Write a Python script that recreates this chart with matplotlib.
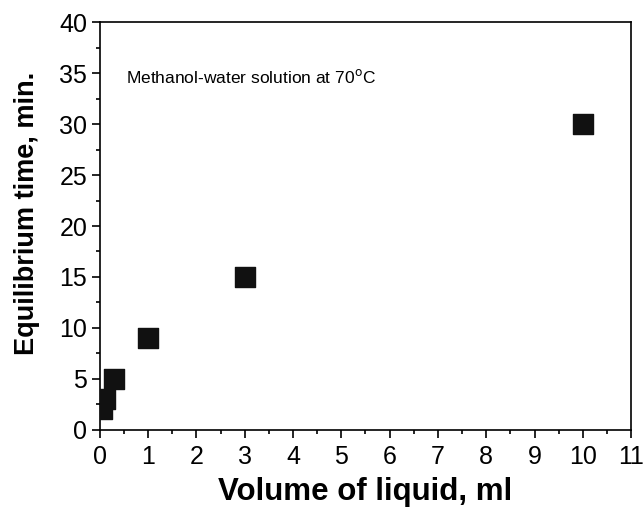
import matplotlib
matplotlib.use("Agg")
import matplotlib.pyplot as plt
from matplotlib.ticker import MultipleLocator

plt.rcParams['font.family'] = ['Liberation Sans', 'DejaVu Sans']

# volume of liquid (ml) and equilibrium time (min)
volume = [0.05, 0.1, 0.3, 1, 3, 10]
eq_time = [2, 3, 5, 9, 15, 30]

fig = plt.figure(figsize=(6.44, 5.16), dpi=100)
ax = fig.add_axes([0.155, 0.167, 0.825, 0.79])

ax.scatter(volume, eq_time, marker='s', s=200, color='#111111', zorder=3)

ax.set_xlim(0, 11)
ax.set_ylim(0, 40)
ax.xaxis.set_major_locator(MultipleLocator(1))
ax.xaxis.set_minor_locator(MultipleLocator(0.5))
ax.yaxis.set_major_locator(MultipleLocator(5))
ax.yaxis.set_minor_locator(MultipleLocator(2.5))
ax.tick_params(which='both', direction='out', top=False, right=False, width=1.2)
ax.tick_params(which='major', length=6, labelsize=18)
ax.tick_params(axis='x', which='major', pad=5)
ax.tick_params(axis='y', which='major', pad=3)
ax.tick_params(which='minor', length=3)
for s in ax.spines.values():
    s.set_linewidth(1.2)

ax.set_xlabel('Volume of liquid, ml', fontsize=22.5, fontweight='bold', labelpad=6)
ax.set_ylabel('Equilibrium time, min.', fontsize=19.5, fontweight='bold')
ax.yaxis.set_label_coords(-0.112, 0.53)
ax.text(0.05, 0.865, 'Methanol-water solution at 70$^{\\rm o}$C', transform=ax.transAxes,
        fontsize=12.5, va='center')

fig.savefig('out.png', dpi=100)
